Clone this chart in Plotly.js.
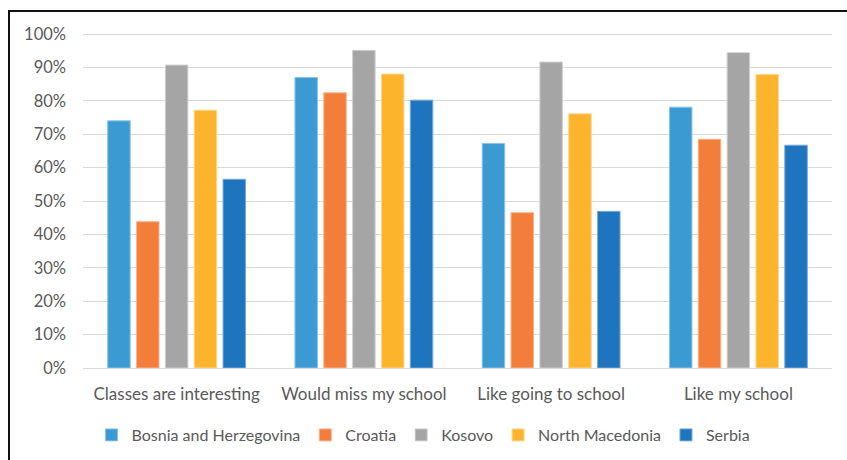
<!DOCTYPE html>
<html>
<head>
<meta charset="utf-8">
<script src="https://cdn.plot.ly/plotly-3.0.1.min.js"></script>
<style>
  html, body { margin: 0; padding: 0; background: #fff; }
  #wrap { position: relative; width: 847px; height: 460px; overflow: hidden; }
  #chart { width: 847px; height: 460px; }
  #frame {
    position: absolute; left: 8px; top: 10px; width: 900px; height: 500px;
    border-left: 2px solid #111; border-top: 2px solid #111; pointer-events: none;
  }
</style>
</head>
<body>
<div id="wrap">
  <div id="chart"></div>
  <div id="frame"></div>
</div>
<script>
// Share of pupils agreeing with each statement, by country
const categories = ["Classes are interesting", "Would miss my school", "Like going to school", "Like my school"];
const countries = ["Bosnia and Herzegovina", "Croatia", "Kosovo", "North Macedonia", "Serbia"];
const bosnia = [0.740, 0.870, 0.672, 0.781];
const croatia = [0.438, 0.824, 0.465, 0.685];
const kosovo = [0.907, 0.951, 0.916, 0.944];
const northMacedonia = [0.772, 0.880, 0.761, 0.879];
const serbia = [0.565, 0.802, 0.469, 0.667];
const yTickVals = [0, 0.1, 0.2, 0.3, 0.4, 0.5, 0.6, 0.7, 0.8, 0.9, 1.0];
const yTickText = ["0%", "10%", "20%", "30%", "40%", "50%", "60%", "70%", "80%", "90%", "100%"];

const colors = ["#3C9AD3", "#F37E3B", "#A5A5A5", "#FCB42C", "#1F74BE"];
const edges = ["#8CC4E6", "#F8B48C", "#CFCFCF", "#FDD88E", "#76A9D8"];
const series = [bosnia, croatia, kosovo, northMacedonia, serbia];

const FONT = "Lato, 'Liberation Sans', sans-serif";

const traces = series.map((vals, i) => ({
  type: "bar",
  name: countries[i],
  x: categories,
  y: vals,
  marker: { color: colors[i], line: { color: edges[i], width: 1 } },
  hoverinfo: "skip"
}));

const layout = {
  width: 847,
  height: 460,
  margin: { l: 83, r: 15, t: 30, b: 92 },
  paper_bgcolor: "#ffffff",
  plot_bgcolor: "#ffffff",
  barmode: "group",
  bargap: 0.23,
  bargroupgap: 0.22,
  font: { family: FONT, color: "#595959", size: 16 },
  xaxis: {
    type: "category",
    showgrid: false,
    showline: true,
    linecolor: "#d9d9d9",
    linewidth: 1,
    ticks: "",
    ticklabelstandoff: 11,
    tickfont: { family: FONT, size: 17, color: "#595959" },
    fixedrange: true
  },
  yaxis: {
    range: [0, 1.012],
    tickvals: yTickVals,
    ticktext: yTickText,
    showgrid: true,
    gridcolor: "#d9d9d9",
    gridwidth: 1,
    zeroline: false,
    showline: false,
    ticks: "",
    ticklabelstandoff: 16,
    tickfont: { family: FONT, size: 16.5, color: "#595959" },
    fixedrange: true
  },
  showlegend: true,
  legend: {
    orientation: "h",
    x: 0.5,
    xanchor: "center",
    xref: "container",
    y: 1 - 435 / 460,
    yref: "container",
    yanchor: "middle",
    font: { family: FONT, size: 16, color: "#595959" },
    itemwidth: 30,
    tracegroupgap: 0,
    traceorder: "normal"
  }
};

Plotly.newPlot("chart", traces, layout, { staticPlot: true, displayModeBar: false });
</script>
</body>
</html>
